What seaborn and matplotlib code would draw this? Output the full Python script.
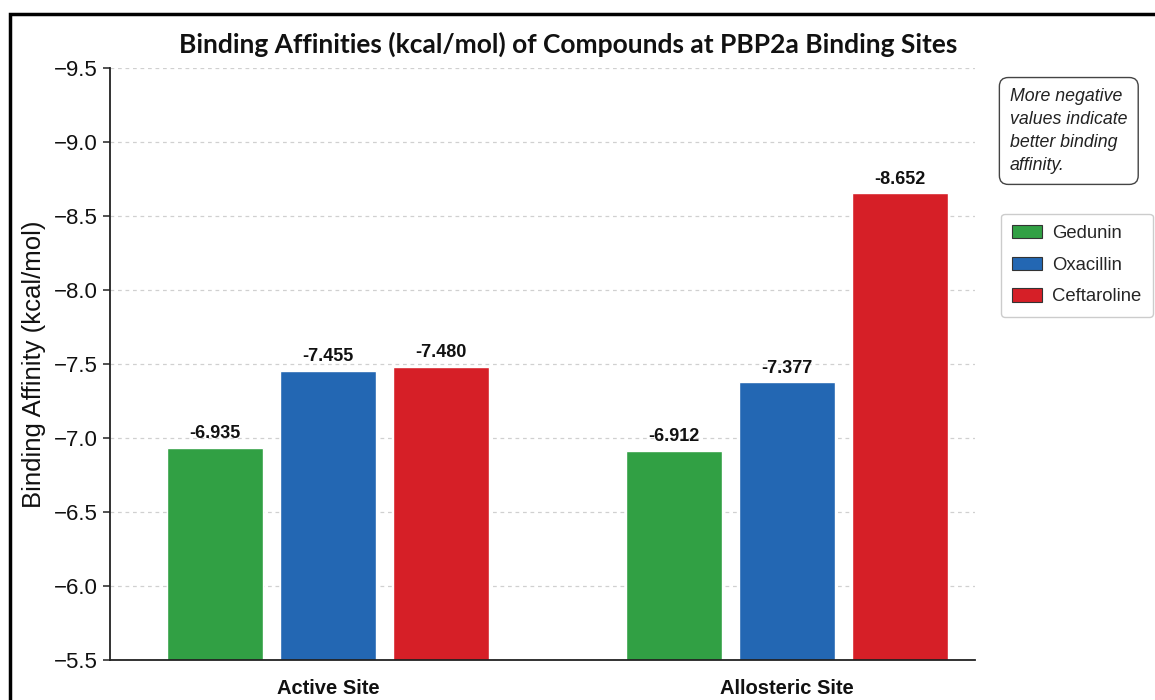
import numpy as np
import pandas as pd
import seaborn as sns
import matplotlib
matplotlib.use("Agg")
import matplotlib.pyplot as plt
from matplotlib.patches import Patch, Rectangle

# Docking scores per binding site (kcal/mol)
sites = ["Active Site", "Allosteric Site"]
compounds = ["Gedunin", "Oxacillin", "Ceftaroline"]
gedunin = [-6.935, -6.912]
oxacillin = [-7.455, -7.377]
ceftaroline = [-7.480, -8.652]
colors = ["#31a044", "#2367b3", "#d61f27"]
y_ticks = [-9.5, -9.0, -8.5, -8.0, -7.5, -7.0, -6.5, -6.0, -5.5]

df = pd.DataFrame({
    "site": sites * 3,
    "compound": np.repeat(compounds, len(sites)),
    "affinity": gedunin + oxacillin + ceftaroline,
})

sns.set_theme(style="white")
plt.rcParams["font.family"] = ["Liberation Sans", "DejaVu Sans"]
plt.rcParams["axes.unicode_minus"] = True

fig = plt.figure(figsize=(11.55, 7.0), dpi=100)
fig.patch.set_facecolor("white")
ax = fig.add_axes([0.0952, 0.0571, 0.749, 0.846])

sns.barplot(data=df, x="site", y="affinity", hue="compound",
            order=sites, hue_order=compounds, palette=colors,
            width=0.74, gap=0.15, saturation=1, legend=False, ax=ax)

# Affinity scale runs upward toward more negative values
ax.set_ylim(-5.5, -9.5)
ax.set_yticks(y_ticks)
ax.set_xlim(-0.475, 1.41)

ax.yaxis.grid(True, linestyle=(0, (3, 3)), color="#d0d0d0", linewidth=0.9)
ax.set_axisbelow(True)
for s in ["top", "right"]:
    ax.spines[s].set_visible(False)
for s in ["left", "bottom"]:
    ax.spines[s].set_color("#222222")
    ax.spines[s].set_linewidth(1.3)

ax.tick_params(axis="y", which="both", left=True, length=5, width=1.1,
               color="#222222", labelsize=16, pad=3.5, labelcolor="#111111")
ax.tick_params(axis="x", bottom=False, labelsize=14.5, pad=8, labelcolor="#111111")
for lbl in ax.get_xticklabels():
    lbl.set_fontweight("bold")

ax.set_xlabel("")
ax.set_ylabel("Binding Affinity (kcal/mol)", fontsize=18.5, color="#111111", labelpad=6)

fig.text(0.4918, 0.937,
         "Binding Affinities (kcal/mol) of Compounds at PBP2a Binding Sites",
         ha="center", va="center", fontsize=19, fontweight="bold",
         color="#111111", family=["Lato", "DejaVu Sans"])

series = [gedunin, oxacillin, ceftaroline]
for cont, vals in zip(ax.containers, series):
    ax.bar_label(cont, labels=[f"{v:.3f}" for v in vals], padding=4,
                 fontsize=13, fontweight="bold", color="#111111")

# Note box
fig.text(0.8745, 0.874,
         "More negative\nvalues indicate\nbetter binding\naffinity.",
         ha="left", va="top", fontsize=12.8, style="italic", color="#222222",
         linespacing=1.45,
         bbox=dict(boxstyle="round,pad=0.6,rounding_size=0.5",
                   facecolor="white", edgecolor="#444444", linewidth=1.0))

handles = [Patch(facecolor=c, edgecolor="#333333", linewidth=0.8, label=n)
           for c, n in zip(colors, compounds)]
leg = fig.legend(handles=handles, loc="upper left", bbox_to_anchor=(0.8665, 0.695),
                 fontsize=13.3, frameon=True, fancybox=True, framealpha=1,
                 edgecolor="#cccccc", labelspacing=0.78, handlelength=1.6,
                 handleheight=0.75, handletextpad=0.55, borderpad=0.62,
                 borderaxespad=0)
leg.get_frame().set_linewidth(1.0)

# Outer frame
fig.patches.append(Rectangle((0.0085, -0.2), 1.5, 1.18, transform=fig.transFigure,
                             fill=False, edgecolor="black", linewidth=2.5,
                             clip_on=False))

fig.savefig("out.png", dpi=100, facecolor="white")
